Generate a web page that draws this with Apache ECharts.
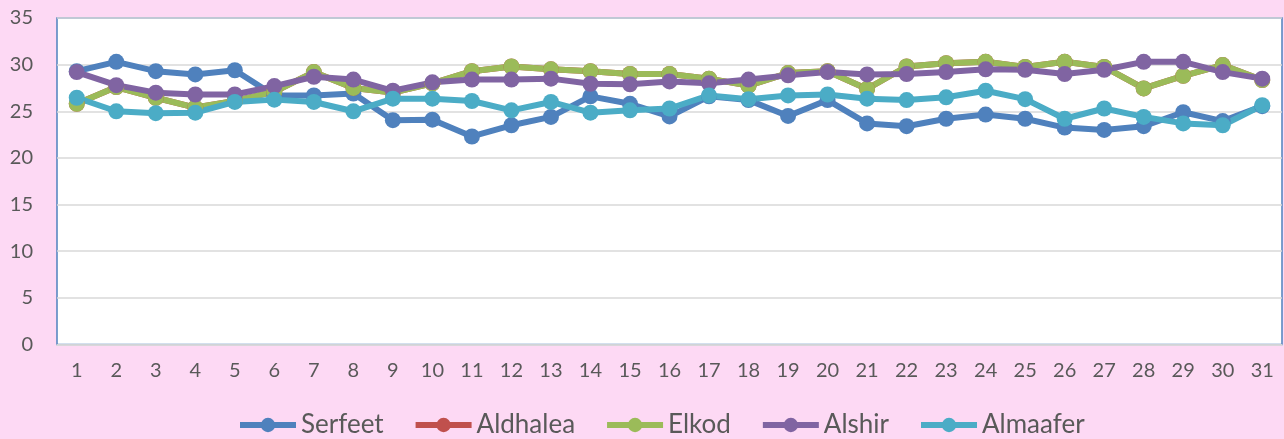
<!DOCTYPE html>
<html>
<head>
<meta charset="utf-8">
<script src="https://cdn.jsdelivr.net/npm/echarts@6/dist/echarts.min.js"></script>
<style>
  html, body { margin: 0; padding: 0; background: #fdd9f4; }
  #main { width: 1284px; height: 439px; }
</style>
</head>
<body>
<div id="main"></div>
<script>
const days = ['1', '2', '3', '4', '5', '6', '7', '8', '9', '10', '11', '12', '13', '14', '15', '16',
  '17', '18', '19', '20', '21', '22', '23', '24', '25', '26', '27', '28', '29', '30', '31']

const serfeet = [29.3, 30.3, 29.3, 28.95, 29.4, 26.7, 26.7, 26.9, 24.05, 24.1, 22.3, 23.5, 24.4, 26.6, 25.8, 24.45,
  26.6, 26.2, 24.5, 26.2, 23.7, 23.4, 24.2, 24.65, 24.2, 23.25, 23.0, 23.4, 24.9, 23.95, 25.55]
const elkod = [25.8, 27.6, 26.45, 25.4, 26.1, 27.1, 29.2, 27.5, 27.0, 28.0, 29.3, 29.8, 29.5, 29.3, 29.0, 29.0,
  28.5, 27.75, 29.1, 29.3, 27.4, 29.8, 30.15, 30.3, 29.75, 30.3, 29.75, 27.45, 28.8, 29.95, 28.35]
// red series sits exactly under the green one in the picture
const aldhalea = elkod.slice()
const alshir = [29.2, 27.8, 27.0, 26.8, 26.8, 27.7, 28.7, 28.4, 27.2, 28.1, 28.4, 28.4, 28.5, 27.95, 27.9, 28.2,
  28.0, 28.4, 28.85, 29.2, 28.95, 29.0, 29.2, 29.5, 29.45, 29.0, 29.45, 30.3, 30.3, 29.2, 28.5]
const almaafer = [26.45, 25.0, 24.8, 24.85, 26.0, 26.25, 26.0, 25.0, 26.35, 26.35, 26.1, 25.1, 26.0, 24.85, 25.1, 25.3,
  26.7, 26.3, 26.7, 26.8, 26.35, 26.2, 26.5, 27.2, 26.3, 24.2, 25.3, 24.4, 23.7, 23.5, 25.65]

const names = ['Serfeet', 'Aldhalea', 'Elkod', 'Alshir', 'Almaafer']
const colors = ['#4f81bd', '#c0504d', '#9bbb59', '#8064a2', '#4bacc6']
const values = [serfeet, aldhalea, elkod, alshir, almaafer]

const font = 'Lato'
const textColor = '#595959'

const chart = echarts.init(document.getElementById('main'))

chart.setOption({
  animation: false,
  backgroundColor: '#fdd9f4',
  color: colors,
  grid: {
    left: 57,
    right: 2,
    top: 18,
    bottom: 94.5,
    show: true,
    backgroundColor: '#ffffff',
    borderColor: '#4f81bd',
    borderWidth: 1.5,
  },
  legend: {
    left: 232,
    top: 406,
    itemWidth: 56,
    itemHeight: 18,
    itemGap: 29,
    lineStyle: { width: 6 },
    textStyle: { fontFamily: font, fontSize: 26, color: textColor, lineHeight: 28 },
    data: names,
  },
  xAxis: {
    type: 'category',
    data: days,
    boundaryGap: true,
    axisLine: { lineStyle: { color: '#d9d9d9', width: 1.5 } },
    axisTick: { show: false },
    axisLabel: { fontFamily: font, fontSize: 20, color: textColor, margin: 16, interval: 0 },
  },
  yAxis: {
    type: 'value',
    min: 0,
    max: 35,
    interval: 5,
    axisLine: { show: false },
    axisTick: { show: false },
    axisLabel: { fontFamily: font, fontSize: 20, color: textColor, margin: 24 },
    splitLine: { lineStyle: { color: '#d9d9d9', width: 1.5 } },
  },
  series: names.map((name, i) => ({
    name: name,
    type: 'line',
    data: values[i],
    symbol: 'circle',
    symbolSize: 16,
    lineStyle: { width: 6, color: colors[i] },
    itemStyle: { color: colors[i] },
  })),
})
</script>
</body>
</html>
